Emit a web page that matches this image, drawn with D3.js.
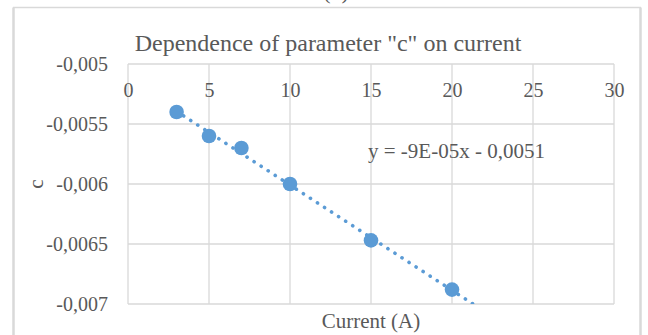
<!DOCTYPE html>
<html>
<head>
<meta charset="utf-8">
<script src="https://cdn.jsdelivr.net/npm/d3@7"></script>
<style>
  html, body { margin: 0; padding: 0; background: #ffffff; }
  svg { display: block; }
  text { font-family: "Liberation Serif", "Times New Roman", serif; fill: #595959; }
</style>
</head>
<body>
<svg id="chart" width="648" height="335"></svg>
<script>
// Measured parameter "c" at each current setting
const current = [3, 5, 7, 10, 15, 20];
const cValues = [-0.0054, -0.0056, -0.0057, -0.006, -0.00647, -0.00688];

// Axis ticks
const xTicks = [0, 5, 10, 15, 20, 25, 30];
const yTicks = [-0.005, -0.0055, -0.006, -0.0065, -0.007];

// Texts
const chartTitle = 'Dependence of parameter "c" on current';
const xTitle = "Current (A)";
const yTitle = "c";
const equationText = "y = -9E-05x - 0,0051";
const panelLabel = "(b)";

const W = 648, H = 335;
const plot = { left: 128, right: 614, top: 64, bottom: 304 };
const grid = "#d9d9d9";
const blue = "#5b9bd5";

const svg = d3.select("#chart");

// Comma-decimal number formatting
const locale = d3.formatLocale({ decimal: ",", thousands: ".", grouping: [3], currency: ["", ""], minus: "-" });
const fmt = locale.format("~g");

const x = d3.scaleLinear().domain([0, 30]).range([plot.left, plot.right]);
const y = d3.scaleLinear().domain([-0.007, -0.005]).range([plot.bottom, plot.top]);

// Chart area frame
svg.append("line").attr("x1", 13.5).attr("x2", 13.5).attr("y1", 7.5).attr("y2", H + 2)
  .attr("stroke", grid).attr("stroke-width", 2.5);
svg.append("line").attr("x1", 640.5).attr("x2", 640.5).attr("y1", 7.5).attr("y2", H + 2)
  .attr("stroke", grid).attr("stroke-width", 2.5);
svg.append("line").attr("x1", 13).attr("x2", 641).attr("y1", 7.5).attr("y2", 7.5)
  .attr("stroke", grid).attr("stroke-width", 1.3);

// Panel label above the chart frame (runs off the top of the page)
svg.append("text").attr("x", 336).attr("y", -1).attr("text-anchor", "middle")
  .style("font-size", "22px").text(panelLabel);

// Title
svg.append("text").attr("x", 328).attr("y", 51).attr("text-anchor", "middle")
  .style("font-size", "24px").text(chartTitle);

// Gridlines
const g = svg.append("g");
g.selectAll("line.v").data(xTicks).join("line").attr("class", "v")
  .attr("x1", d => x(d)).attr("x2", d => x(d))
  .attr("y1", plot.top).attr("y2", plot.bottom)
  .attr("stroke", grid).attr("stroke-width", 1.3);
g.selectAll("line.h").data(yTicks).join("line").attr("class", "h")
  .attr("x1", plot.left).attr("x2", plot.right)
  .attr("y1", d => y(d)).attr("y2", d => y(d))
  .attr("stroke", grid).attr("stroke-width", 1.3);

// Horizontal axis: crosses at the top value, labels below it
const xAxis = svg.append("g").attr("transform", `translate(0,${plot.top})`)
  .call(d3.axisBottom(x).tickValues(xTicks).tickSize(0).tickPadding(19).tickFormat(d3.format("d")));
xAxis.select(".domain").remove();
xAxis.selectAll("text").style("font-size", "20px").attr("fill", "#595959")
  .style("font-family", '"Liberation Serif", "Times New Roman", serif');

// Vertical axis
const yAxis = svg.append("g").attr("transform", `translate(${plot.left},0)`)
  .call(d3.axisLeft(y).tickValues(yTicks).tickSize(0).tickPadding(20).tickFormat(fmt));
yAxis.select(".domain").remove();
yAxis.selectAll("text").style("font-size", "20px").attr("fill", "#595959")
  .style("font-family", '"Liberation Serif", "Times New Roman", serif');

// Axis titles
svg.append("text").attr("x", (plot.left + plot.right) / 2).attr("y", 328)
  .attr("text-anchor", "middle").style("font-size", "21px").text(xTitle);
svg.append("text").attr("transform", `translate(43,${(plot.top + plot.bottom) / 2}) rotate(-90)`)
  .attr("text-anchor", "middle").style("font-size", "21px").text(yTitle);

// Least-squares linear trendline, extended forward and clipped to the plot area
const mx = d3.mean(current), my = d3.mean(cValues);
const sxy = d3.sum(current, (d, i) => (d - mx) * (cValues[i] - my));
const sxx = d3.sum(current, d => (d - mx) * (d - mx));
const slope = sxy / sxx, intercept = my - slope * mx;

svg.append("clipPath").attr("id", "plotClip").append("rect")
  .attr("x", plot.left).attr("y", plot.top)
  .attr("width", plot.right - plot.left).attr("height", plot.bottom - plot.top);

const trendX = [d3.min(current), 25];
svg.append("line").attr("clip-path", "url(#plotClip)")
  .attr("x1", x(trendX[0])).attr("y1", y(slope * trendX[0] + intercept))
  .attr("x2", x(trendX[1])).attr("y2", y(slope * trendX[1] + intercept))
  .attr("stroke", blue).attr("stroke-width", 3.6)
  .attr("stroke-linecap", "round").attr("stroke-dasharray", "0.1 8.3");

// Data points
svg.selectAll("circle.pt").data(current).join("circle").attr("class", "pt")
  .attr("cx", d => x(d)).attr("cy", (d, i) => y(cValues[i]))
  .attr("r", 7.3).attr("fill", blue);

// Trendline equation
svg.append("text").attr("x", 368).attr("y", 158).style("font-size", "21px").text(equationText);
</script>
</body>
</html>
